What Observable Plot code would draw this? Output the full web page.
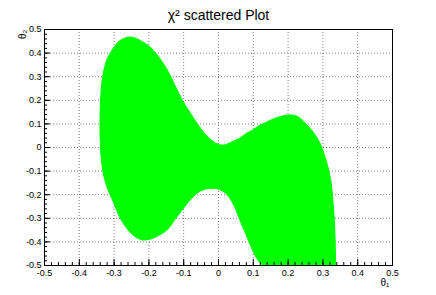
<!DOCTYPE html>
<html>
<head>
<meta charset="utf-8">
<script src="https://cdn.jsdelivr.net/npm/d3@7"></script>
<script src="https://cdn.jsdelivr.net/npm/@observablehq/plot@0.6"></script>
<style>
  html, body { margin: 0; padding: 0; background: white; }
</style>
</head>
<body>
<div id="chart"></div>
<script>
// Outline of the scattered region (theta1 -> lower / upper theta2 boundary)
const theta1 = [-0.339, -0.336, -0.33, -0.318, -0.30, -0.285, -0.267, -0.25, -0.235, -0.216, -0.2, -0.18, -0.147, -0.125, -0.103, -0.08, -0.06, -0.04, -0.02, 0.0, 0.012, 0.025, 0.045, 0.063, 0.083, 0.1, 0.115, 0.129, 0.14, 0.17, 0.207, 0.23, 0.256, 0.275, 0.293, 0.305, 0.316, 0.325, 0.33, 0.335, 0.337, 0.338];
const theta2Upper = [0.13, 0.24, 0.31, 0.375, 0.42, 0.447, 0.462, 0.466, 0.46, 0.445, 0.43, 0.40, 0.33, 0.265, 0.20, 0.145, 0.10, 0.06, 0.03, 0.012, 0.008, 0.012, 0.025, 0.038, 0.059, 0.072, 0.088, 0.098, 0.106, 0.125, 0.136, 0.128, 0.093, 0.06, 0.017, -0.03, -0.085, -0.15, -0.225, -0.33, -0.42, -0.5];
const theta2Lower = [0.05, -0.04, -0.11, -0.175, -0.235, -0.29, -0.335, -0.365, -0.383, -0.394, -0.392, -0.382, -0.352, -0.31, -0.267, -0.225, -0.195, -0.18, -0.175, -0.178, -0.186, -0.2, -0.245, -0.31, -0.38, -0.44, -0.48, -0.5, -0.5, -0.5, -0.5, -0.5, -0.5, -0.5, -0.5, -0.5, -0.5, -0.5, -0.5, -0.5, -0.5, -0.5];

const majorTicks = [-0.5, -0.4, -0.3, -0.2, -0.1, 0, 0.1, 0.2, 0.3, 0.4, 0.5];
const tickLabels = ["-0.5", "-0.4", "-0.3", "-0.2", "-0.1", "0", "0.1", "0.2", "0.3", "0.4", "0.5"];
const minorTicks = d3.range(-0.5, 0.5001, 0.02);

const title = "χ² scattered Plot";
const xLabel = "θ₁";
const yLabel = "θ₂";

const region = theta1.map((x, i) => ({x, lo: theta2Lower[i], hi: theta2Upper[i]}));
const fmt = d => tickLabels[majorTicks.findIndex(t => Math.abs(t - d) < 1e-9)];

const W = 436, H = 295, mL = 44, mR = 44, mT = 29, mB = 30;
const pw = W - mL - mR, ph = H - mT - mB;

const chart = Plot.plot({
  width: W, height: H,
  marginLeft: mL, marginRight: mR, marginTop: mT, marginBottom: mB,
  x: {domain: [-0.5, 0.5]},
  y: {domain: [-0.5, 0.5]},
  style: {fontFamily: "'Liberation Sans', Arial, Helvetica, sans-serif", fontSize: "9px", background: "white", color: "black"},
  marks: [
    Plot.gridX(majorTicks, {stroke: "#808080", strokeOpacity: 1, strokeDasharray: "1,2"}),
    Plot.gridY(majorTicks, {stroke: "#808080", strokeOpacity: 1, strokeDasharray: "1,2"}),
    Plot.areaY(region, {x: "x", y1: "lo", y2: "hi", fill: "#00ff00", stroke: "#00ff00", strokeWidth: 1, curve: "catmull-rom", clip: true}),
    Plot.tickX(minorTicks, {x: d => d, insetTop: ph - 3, stroke: "black"}),
    Plot.tickX(majorTicks, {x: d => d, insetTop: ph - 6, stroke: "black"}),
    Plot.tickY(minorTicks, {y: d => d, insetRight: pw - 3, stroke: "black"}),
    Plot.tickY(majorTicks, {y: d => d, insetRight: pw - 6, stroke: "black"}),
    Plot.axisX(majorTicks, {tickSize: 0, tickPadding: 4, tickFormat: fmt, fontSize: 9, label: null}),
    Plot.axisY(majorTicks, {tickSize: 0, tickPadding: 3, tickFormat: fmt, fontSize: 9, label: null}),
    Plot.frame({stroke: "black"}),
    Plot.text([title], {frameAnchor: "top", dy: -19, fontSize: 14, text: d => d}),
    Plot.text([xLabel], {frameAnchor: "bottom-right", dx: -3, dy: 20, fontSize: 10, text: d => d}),
    Plot.text([yLabel], {frameAnchor: "top-left", dx: -26, rotate: -90, textAnchor: "end", fontSize: 10, text: d => d})
  ]
});
document.getElementById("chart").appendChild(chart);
</script>
</body>
</html>
